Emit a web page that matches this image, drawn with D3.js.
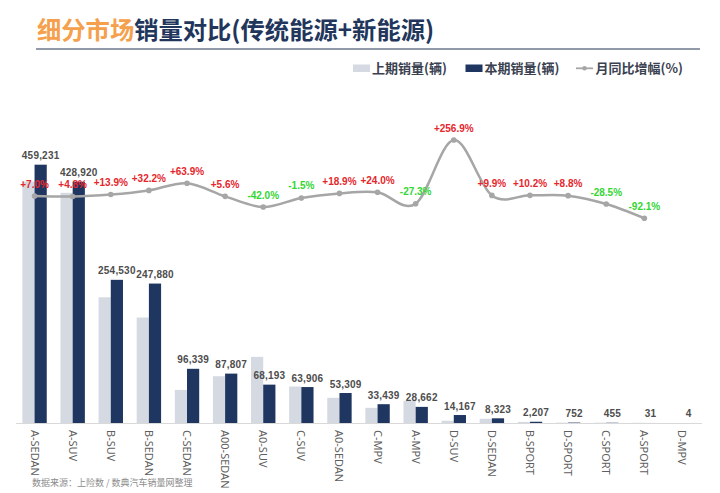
<!DOCTYPE html>
<html><head><meta charset="utf-8">
<script src="https://cdn.jsdelivr.net/npm/d3@7"></script>
<style>
html,body{margin:0;padding:0;background:#fff;}
svg{display:block;}
</style></head>
<body>
<script>
const categories = ["A-SEDAN","A-SUV","B-SUV","B-SEDAN","C-SEDAN","A00-SEDAN","A0-SUV","C-SUV","A0-SEDAN","C-MPV","A-MPV","D-SUV","D-SEDAN","B-SPORT","D-SPORT","C-SPORT","A-SPORT","D-MPV"];
const currentSales = [459231,428920,254530,247880,96339,87807,68193,63906,53309,33439,28662,14167,8323,2207,752,455,31,4];
const previousSales = [429188,409275,223468,187504,58779,83151,117574,64879,44835,26967,39425,3969,7573,2003,691,636,392,0];
const momGrowth = [7.0,4.8,13.9,32.2,63.9,5.6,-42.0,-1.5,18.9,24.0,-27.3,256.9,9.9,10.2,8.8,-28.5,-92.1,null];
const seriesNames = ["上期销量(辆)","本期销量(辆)","月同比增幅(%)"];

const W = 720, H = 493;
const svg = d3.select("body").append("svg").attr("width", W).attr("height", H);

const cjk = "'Noto Sans CJK SC','Noto Sans',sans-serif";
const lat = "'Liberation Sans',Arial,sans-serif";

// Title
const title = svg.append("text").attr("x", 37).attr("y", 39)
  .style("font-family", cjk).style("font-weight", "700").style("font-size", "24.3px");
title.append("tspan").attr("fill", "#f5a04c").text("细分市场");
title.append("tspan").attr("fill", "#22365c").text("销量对比(传统能源+新能源)");

svg.append("line").attr("x1", 36).attr("x2", 700).attr("y1", 49).attr("y2", 49)
  .attr("stroke", "#6c788c").attr("stroke-width", 1.5);

// Scales
const x = d3.scaleBand().domain(categories).range([15.5, 701.5]).padding(0);
const pair = d3.scaleBand().domain(["prev","cur"]).range([0, 24.4]).padding(0);
const y = d3.scaleLinear().domain([0, 500000]).range([423, 141.75]);
const y2 = d3.scaleLinear().domain([-1000, 300]).range([421.7, 130.4]);

const colPrev = "#d5dae2", colCur = "#1f3661", colLine = "#a6a6a6";

// Axis
const xAxis = svg.append("g").attr("transform", "translate(0,423)")
  .call(d3.axisBottom(x).tickSize(0).tickPadding(0));
xAxis.select(".domain").attr("stroke", "#d9d9d9").attr("stroke-width", 1);
xAxis.selectAll(".tick text")
  .attr("transform", "rotate(90)")
  .attr("x", 7).attr("y", 0).attr("dy", "0.36em")
  .style("text-anchor", "start")
  .style("font-family", "'Noto Sans','Liberation Sans',sans-serif").style("font-size", "11px").attr("fill", "#5f5f5f");

// Bars
const g = svg.append("g");
const offset = (x.bandwidth() - pair.range()[1]) / 2;
g.selectAll("rect.prev").data(categories).join("rect").attr("class", "prev")
  .attr("x", (d) => x(d) + offset + pair("prev"))
  .attr("width", pair.bandwidth())
  .attr("y", (d, i) => y(previousSales[i]))
  .attr("height", (d, i) => y(0) - y(previousSales[i]))
  .attr("fill", colPrev);
g.selectAll("rect.cur").data(categories).join("rect").attr("class", "cur")
  .attr("x", (d) => x(d) + offset + pair("cur"))
  .attr("width", pair.bandwidth())
  .attr("y", (d, i) => y(currentSales[i]))
  .attr("height", (d, i) => y(0) - y(currentSales[i]))
  .attr("fill", colCur);

// Value labels
g.selectAll("text.val").data(categories).join("text").attr("class", "val")
  .attr("x", (d) => x(d) + offset + pair("cur") + pair.bandwidth() / 2)
  .attr("y", (d, i) => y(currentSales[i]) - 5.5)
  .attr("text-anchor", "middle")
  .style("font-family", lat).style("font-weight", "700").style("font-size", "10px")
  .style("letter-spacing", "0.2px")
  .attr("fill", "#4d4d4d")
  .text((d, i) => d3.format(",")(currentSales[i]));

// Line
const pts = categories.map((c, i) => ({c, v: momGrowth[i]})).filter(p => p.v !== null);
const line = d3.line().x(p => x(p.c) + x.bandwidth() / 2).y(p => y2(p.v)).curve(d3.curveCardinal.tension(0));
svg.append("path").datum(pts).attr("d", line).attr("fill", "none")
  .attr("stroke", colLine).attr("stroke-width", 2.5);
svg.selectAll("circle.pt").data(pts).join("circle").attr("class", "pt")
  .attr("cx", p => x(p.c) + x.bandwidth() / 2).attr("cy", p => y2(p.v)).attr("r", 2.8)
  .attr("fill", colLine);
svg.selectAll("text.pct").data(pts).join("text").attr("class", "pct")
  .attr("x", p => x(p.c) + x.bandwidth() / 2)
  .attr("y", p => y2(p.v) - 8.5)
  .attr("text-anchor", "middle")
  .style("font-family", lat).style("font-weight", "700").style("font-size", "10px")
  .attr("fill", p => p.v >= 0 ? "#e5262c" : "#33d633")
  .text(p => (p.v >= 0 ? "+" : "") + p.v.toFixed(1) + "%");

// Legend
const lg = svg.append("g").style("font-family", cjk).style("font-weight", "700").style("font-size", "13px");
lg.append("rect").attr("x", 353).attr("y", 64.5).attr("width", 17).attr("height", 7.5).attr("fill", colPrev);
lg.append("text").attr("x", 372).attr("y", 73).attr("fill", "#3a4150").text(seriesNames[0]);
lg.append("rect").attr("x", 465.5).attr("y", 64.5).attr("width", 17).attr("height", 7.5).attr("fill", colCur);
lg.append("text").attr("x", 484.5).attr("y", 73).attr("fill", "#3a4150").text(seriesNames[1]);
lg.append("line").attr("x1", 576).attr("x2", 593).attr("y1", 68.3).attr("y2", 68.3).attr("stroke", colLine).attr("stroke-width", 1.8);
lg.append("circle").attr("cx", 584.5).attr("cy", 68.3).attr("r", 2.3).attr("fill", colLine);
lg.append("text").attr("x", 595.5).attr("y", 73).attr("fill", "#3a4150").text(seriesNames[2]);

// Source
svg.append("text").attr("x", 32).attr("y", 486)
  .style("font-family", cjk).style("font-size", "9px").attr("fill", "#8c8c8c")
  .text("数据来源：上险数 / 数典汽车销量网整理");
</script>
</body></html>
